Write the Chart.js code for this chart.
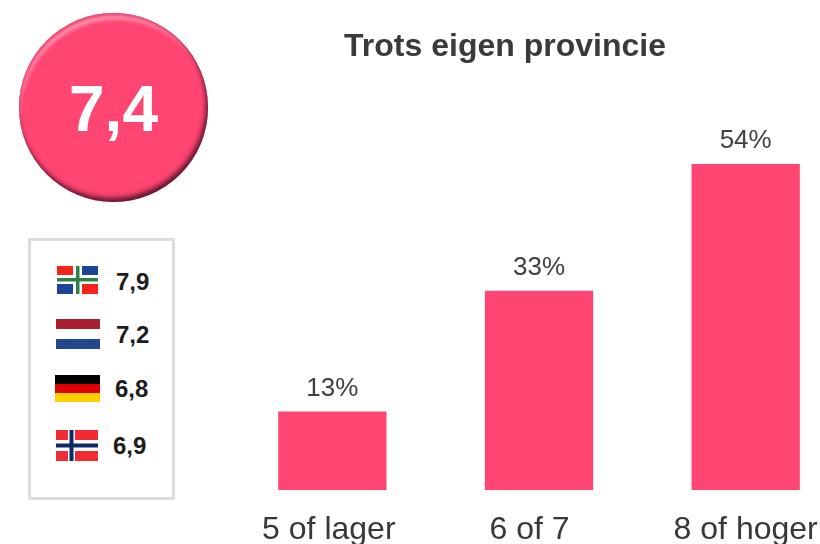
<!DOCTYPE html>
<html><head><meta charset="utf-8">
<script src="https://cdn.jsdelivr.net/npm/chart.js@4"></script>
<style>
html,body{margin:0;padding:0;background:#fff;width:820px;height:544px;overflow:hidden;font-family:"Liberation Sans",Arial,sans-serif}
#wrap{position:absolute;left:0;top:0;width:820px;height:544px;overflow:hidden}
#cv{position:absolute;left:0;top:0}
.abs{position:absolute}
#title{left:245px;width:520px;top:26px;text-align:center;font-weight:bold;font-size:32px;line-height:38px;color:#3a3a3a}
#disc{left:19px;top:13px;width:189px;height:189px;border-radius:50%;background:#ff4571;
box-shadow:inset -2px -4px 5px rgba(60,10,30,.8),inset 1px 3px 3px 0 #f4496f,inset 3px 9px 4px -3px #ffa6c4;
color:#fff;font-weight:bold;font-size:64px;line-height:192px;text-align:center}
#panel{left:28px;top:238px;width:141px;height:256px;border:3px solid #dcdcdc;background:#fff}
.score{font-weight:bold;font-size:24px;line-height:28px;color:#1c1c1c}
.flag{display:block}
</style></head><body>
<div id="wrap">
<canvas id="cv" width="900" height="544" style="width:900px;height:544px"></canvas>
<div id="title" class="abs"></div>
<div id="disc" class="abs"></div>
<div id="panel" class="abs"></div>
<div id="flags"></div>
</div>
<script>
const chartTitle = "Trots eigen provincie";
const overallScore = "7,4";
const categories = ["5 of lager", "6 of 7", "8 of hoger"];
const shares = [13, 33, 54];
const regionScores = ["7,9", "7,2", "6,8", "6,9"];
const regionNames = ["Groningen", "Nederland", "Duitsland", "Noorwegen"];

const flagArt = {
  Groningen:{x:57,y:266,w:41,h:28,svg:'<rect width="41" height="28" fill="#fff"/><rect width="16" height="9" fill="#f5231a"/><rect x="25" width="16" height="9" fill="#1c4595"/><rect y="18" width="16" height="10" fill="#1c4595"/><rect x="25" y="18" width="16" height="10" fill="#f5231a"/><rect y="12" width="41" height="3.5" fill="#2f8048"/><rect x="19" width="3.5" height="28" fill="#2f8048"/>'},
  Nederland:{x:56,y:319,w:44,h:30,svg:'<rect width="44" height="30" fill="#fffdfa"/><rect width="44" height="10" fill="#a81f2f"/><rect y="20" width="44" height="10" fill="#23488f"/>'},
  Duitsland:{x:55,y:375,w:45,h:27,svg:'<rect width="45" height="9" fill="#000"/><rect y="9" width="45" height="9" fill="#dd0000"/><rect y="18" width="45" height="9" fill="#ffce00"/>'},
  Noorwegen:{x:56,y:430,w:42,h:31,svg:'<rect width="42" height="31" fill="#ef2b33"/><rect x="12" width="7" height="31" fill="#fff"/><rect y="10" width="42" height="11" fill="#fff"/><rect x="13.5" width="4" height="31" fill="#0c2a66"/><rect y="13.5" width="42" height="4" fill="#0c2a66"/>'}
};
const scoreLeft = [116,116,115,113];
const scoreMid = [282,335,389,446];
const tickNudge = [-3.5,-9.5,0];

document.getElementById('title').textContent = chartTitle;
document.getElementById('disc').textContent = overallScore;
const host = document.getElementById('flags');
regionNames.forEach((n,i)=>{
  const f = flagArt[n];
  host.insertAdjacentHTML('beforeend',
    `<svg class="abs flag" style="left:${f.x}px;top:${f.y}px" width="${f.w}" height="${f.h}" viewBox="0 0 ${f.w} ${f.h}" aria-label="${n}">${f.svg}</svg>`+
    `<div class="abs score" style="left:${scoreLeft[i]}px;top:${scoreMid[i]-14}px">${regionScores[i]}</div>`);
});

const barLabels = {
  id:'barLabels',
  beforeDraw(chart){
    chart.scales.x.getLabelItems().forEach((it,i)=>{
      if(!it.nudged){it.options.translation[0]+=tickNudge[i];it.nudged=true;}
    });
  },
  afterDatasetsDraw(chart){
    const {ctx} = chart;
    const meta = chart.getDatasetMeta(0);
    ctx.save();
    ctx.font = '26px "Liberation Sans", Arial, sans-serif';
    ctx.fillStyle = '#404040';
    ctx.textAlign = 'center';
    ctx.textBaseline = 'alphabetic';
    meta.data.forEach((bar,i)=>ctx.fillText(shares[i]+'%', bar.x, bar.y-16));
    ctx.restore();
  }
};

new Chart(document.getElementById('cv'),{
  type:'bar',
  data:{labels:categories,datasets:[{data:shares,backgroundColor:'#ff4571',borderWidth:0,categoryPercentage:1,barPercentage:0.524}]},
  options:{
    responsive:false,animation:false,
    layout:{padding:{left:229,right:51,top:7,bottom:0}},
    plugins:{legend:{display:false},title:{display:false},tooltip:{enabled:false}},
    scales:{
      x:{grid:{display:false,drawTicks:false},border:{display:false},
         ticks:{color:'#383838',font:{family:'"Liberation Sans", Arial, sans-serif',size:32},padding:21,maxRotation:0,autoSkip:false},
         afterFit(s){s.height=54;}},
      y:{display:false,min:0,max:80}
    }
  },
  plugins:[barLabels]
});
</script>
</body></html>
